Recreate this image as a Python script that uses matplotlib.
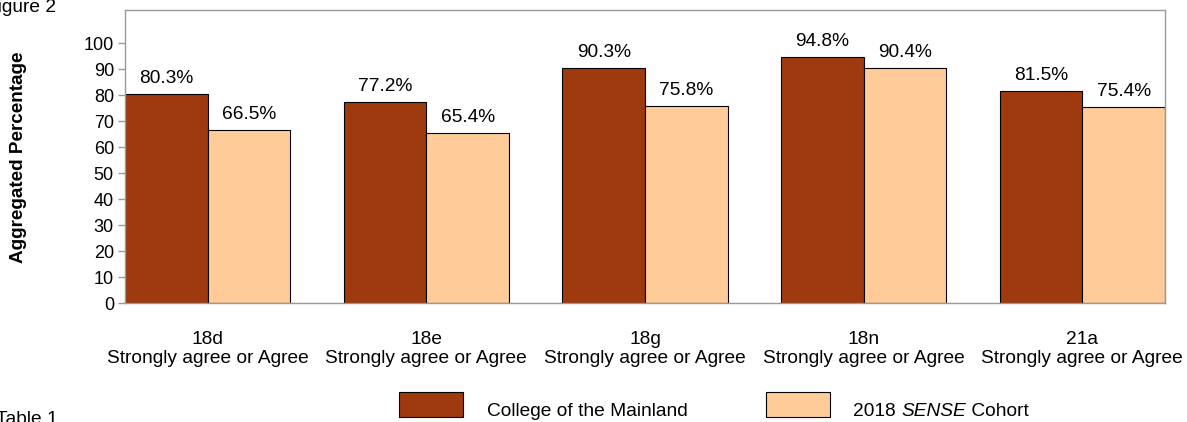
import matplotlib
matplotlib.use("Agg")
import matplotlib.pyplot as plt
from matplotlib.patches import Rectangle
import numpy as np

plt.rcParams['font.family'] = ['Liberation Sans', 'DejaVu Sans']

items = ["18d", "18e", "18g", "18n", "21a"]
response = "Strongly agree or Agree"
college = [80.3, 77.2, 90.3, 94.8, 81.5]
cohort = [66.5, 65.4, 75.8, 90.4, 75.4]
series_names = ["College of the Mainland", "2018 SENSE Cohort"]
yticks = [0, 10, 20, 30, 40, 50, 60, 70, 80, 90, 100]

c_dark = "#9E3A0E"
c_light = "#FFCC99"
FS = 13.8

W, H = 1187, 422
fig = plt.figure(figsize=(W/100, H/100), dpi=100)
ax = fig.add_axes([125/W, (H-303)/H, (1165-125)/W, (303-10)/H])

x = np.arange(len(items))
bw = 0.378
b1 = ax.bar(x - bw/2, college, width=bw, color=c_dark, edgecolor="black", linewidth=0.8)
b2 = ax.bar(x + bw/2, cohort, width=bw, color=c_light, edgecolor="black", linewidth=0.8)
for rects, vals in ((b1, college), (b2, cohort)):
    for r, v in zip(rects, vals):
        ax.text(r.get_x() + r.get_width()/2, v + 4.2, f"{v:.1f}%", ha="center", va="baseline", fontsize=FS)

ax.set_xlim(-bw, len(items) - 1 + bw)
ax.set_ylim(0, 112.7)
ax.set_yticks(yticks)
ax.set_yticklabels([str(t) for t in yticks], fontsize=13)
ax.set_xticks(x)
ax.set_xticklabels([f"{it}\n{response}" for it in items], fontsize=FS, linespacing=1.2)
ax.tick_params(axis="x", length=0, pad=20)
ax.tick_params(axis="y", length=5, color="#999999", width=1, pad=3)
for s in ax.spines.values():
    s.set_color("#999999")
    s.set_linewidth(1)

fig.text(19/W, 1 - 157/H, "Aggregated Percentage", rotation=90, ha="center", va="center",
         fontsize=13.6, fontweight="bold")
fig.text(-14/W, 1 - 7/H, "Figure 2", ha="left", va="center", fontsize=FS)
fig.text(-4/W, 1 - 420/H, "Table 1", ha="left", va="center", fontsize=FS)

# legend
for (x0, col) in ((399, c_dark), (766, c_light)):
    fig.patches.append(Rectangle((x0/W, 1 - 417/H), 64/W, 25/H, transform=fig.transFigure,
                                 facecolor=col, edgecolor="black", linewidth=0.8))
yb = 1 - 416/H
fig.text(487/W, yb, series_names[0], ha="left", va="baseline", fontsize=FS)
t1 = fig.text(853/W, yb, "2018 ", ha="left", va="baseline", fontsize=FS)
fig.canvas.draw()
r = fig.canvas.get_renderer()
bb = t1.get_window_extent(r)
t2 = fig.text(bb.x1/W, yb, "SENSE", ha="left", va="baseline", fontsize=FS, style="italic")
bb2 = t2.get_window_extent(r)
fig.text(bb2.x1/W, yb, " Cohort", ha="left", va="baseline", fontsize=FS)

fig.savefig("out.png", dpi=100)
